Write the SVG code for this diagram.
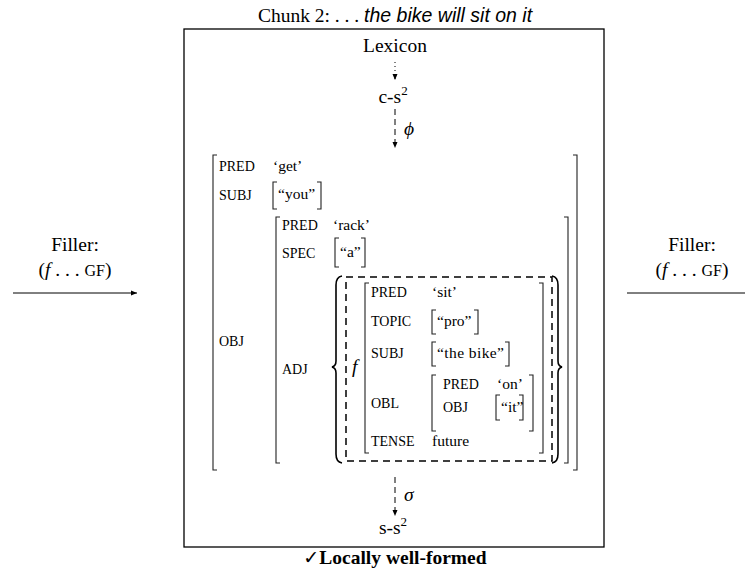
<svg xmlns="http://www.w3.org/2000/svg" width="745" height="572" viewBox="0 0 745 572">
<style>
  .t { font-family: "Liberation Serif", "Times New Roman", serif; font-size: 19.5px; fill: #000; }
  .v { font-family: "Liberation Serif", "Times New Roman", serif; font-size: 15.5px; fill: #000; }
  .sc { font-family: "Liberation Serif", "Times New Roman", serif; font-size: 14px; fill: #000; }
  .it { font-style: italic; }
  .br { fill: none; stroke: #222; stroke-width: 1.1; }
  .brace { fill: none; stroke: #000; stroke-width: 1.6; }
  .dash { fill: none; stroke: #000; stroke-width: 1.5; stroke-dasharray: 7 5; }
  .conn { fill: none; stroke: #000; stroke-width: 1; }
</style>
<defs>
  <marker id="ah" markerWidth="8" markerHeight="8" refX="6" refY="3" orient="auto" markerUnits="userSpaceOnUse">
    <path d="M0,0.5 L6,3 L0,5.5 z" fill="#000"/>
  </marker>
</defs>

<rect x="0" y="0" width="745" height="572" fill="#fff"/>

<g id="title">
  <text class="t" x="395" y="22" text-anchor="middle">Chunk 2: . . . <tspan font-family="Liberation Sans, Arial, sans-serif" font-style="italic">the bike will sit on it</tspan></text>
</g>

<g id="frame">
  <rect x="184" y="29" width="420" height="518" fill="none" stroke="#000" stroke-width="1.3"/>
</g>

<g id="lexicon">
  <text class="t" x="395" y="52" text-anchor="middle">Lexicon</text>
</g>
<g id="cs2">
  <text class="t" x="393" y="103" text-anchor="middle">c-s<tspan font-size="13" dy="-8">2</tspan></text>
</g>
<g id="ss2">
  <text class="t" x="393" y="534" text-anchor="middle">s-s<tspan font-size="13" dy="-8">2</tspan></text>
</g>

<g id="connectors">
  <line class="conn" x1="395" y1="62" x2="395" y2="80" stroke-dasharray="1 3" marker-end="url(#ah)"/>
  <line class="conn" x1="395" y1="109" x2="395" y2="148" stroke-dasharray="6 4" marker-end="url(#ah)"/>
  <text class="t it" x="404" y="135">ϕ</text>
  <line class="conn" x1="395" y1="477" x2="395" y2="516" stroke-dasharray="6 4" marker-end="url(#ah)"/>
  <text class="t it" x="404" y="501">σ</text>
  <line class="conn" x1="13" y1="293" x2="137" y2="293" marker-end="url(#ah)"/>
  <line class="conn" x1="627" y1="293" x2="755" y2="293" marker-end="url(#ah)"/>
</g>

<g id="filler-left">
  <text class="t" x="75" y="251" text-anchor="middle" font-size="21">Filler:</text>
  <text class="t" x="75" y="276" text-anchor="middle" font-size="20.5">(<tspan class="it">f</tspan> . . . <tspan font-size="16">GF</tspan>)</text>
</g>
<g id="filler-right">
  <text class="t" x="692" y="251" text-anchor="middle" font-size="21">Filler:</text>
  <text class="t" x="692" y="276" text-anchor="middle" font-size="20.5">(<tspan class="it">f</tspan> . . . <tspan font-size="16">GF</tspan>)</text>
</g>

<g id="fstructure">
  <!-- outer -->
  <path class="br" d="M217,155 H213 V470 H217"/>
  <path class="br" d="M573,155 H577 V470 H573"/>
  <text class="sc" x="219" y="171">PRED</text>
  <text class="v" x="273" y="171">‘get’</text>
  <text class="sc" x="219" y="200">SUBJ</text>
  <path class="br" d="M277,182 H273 V209 H277"/>
  <path class="br" d="M317,182 H321 V209 H317"/>
  <text class="v" x="278" y="199">“you”</text>
  <text class="sc" x="219" y="346">OBJ</text>

  <!-- OBJ value -->
  <path class="br" d="M280,217 H276 V463 H280"/>
  <path class="br" d="M564,217 H568 V463 H564"/>
  <text class="sc" x="282" y="230">PRED</text>
  <text class="v" x="333" y="230">‘rack’</text>
  <text class="sc" x="282" y="258">SPEC</text>
  <path class="br" d="M339,238 H335 V267 H339"/>
  <path class="br" d="M361,238 H365 V267 H361"/>
  <text class="v" x="340" y="257">“a”</text>
  <text class="sc" x="282" y="374">ADJ</text>

  <!-- ADJ set -->
  <path class="brace" d="M342,276 Q336,277 336,285 L336,361 Q336,366 332,367 Q336,368 336,373 L336,454 Q336,462 342,463"/>
  <path class="brace" d="M552,276 Q558,277 558,285 L558,361 Q558,366 562,367 Q558,368 558,373 L558,454 Q558,462 552,463"/>
  <rect class="dash" x="346" y="277" width="206" height="184"/>
  <text class="t it" x="352" y="373">f</text>

  <!-- f structure -->
  <path class="br" d="M369,283 H365 V453 H369"/>
  <path class="br" d="M539,283 H543 V453 H539"/>
  <text class="sc" x="371" y="297">PRED</text>
  <text class="v" x="432" y="297">‘sit’</text>
  <text class="sc" x="371" y="326">TOPIC</text>
  <path class="br" d="M436,310 H432 V334 H436"/>
  <path class="br" d="M474,310 H478 V334 H474"/>
  <text class="v" x="437" y="326">“pro”</text>
  <text class="sc" x="371" y="358">SUBJ</text>
  <path class="br" d="M436,342 H432 V366 H436"/>
  <path class="br" d="M505,342 H509 V366 H505"/>
  <text class="v" x="437" y="358" textLength="67">“the bike”</text>
  <text class="sc" x="371" y="408">OBL</text>
  <path class="br" d="M436,375 H432 V431 H436"/>
  <path class="br" d="M529,375 H533 V431 H529"/>
  <text class="sc" x="443" y="389">PRED</text>
  <text class="v" x="497" y="389">‘on’</text>
  <text class="sc" x="443" y="412">OBJ</text>
  <path class="br" d="M500,395 H496 V420 H500"/>
  <path class="br" d="M519,395 H523 V420 H519"/>
  <text class="v" x="501" y="412">“it”</text>
  <text class="sc" x="371" y="446">TENSE</text>
  <text class="v" x="432" y="446">future</text>
</g>

<g id="verdict">
  <text class="t" x="395" y="564" text-anchor="middle" font-weight="bold"><tspan font-family="DejaVu Sans, sans-serif" font-weight="normal" font-size="19">✓</tspan>Locally well-formed</text>
</g>
</svg>
